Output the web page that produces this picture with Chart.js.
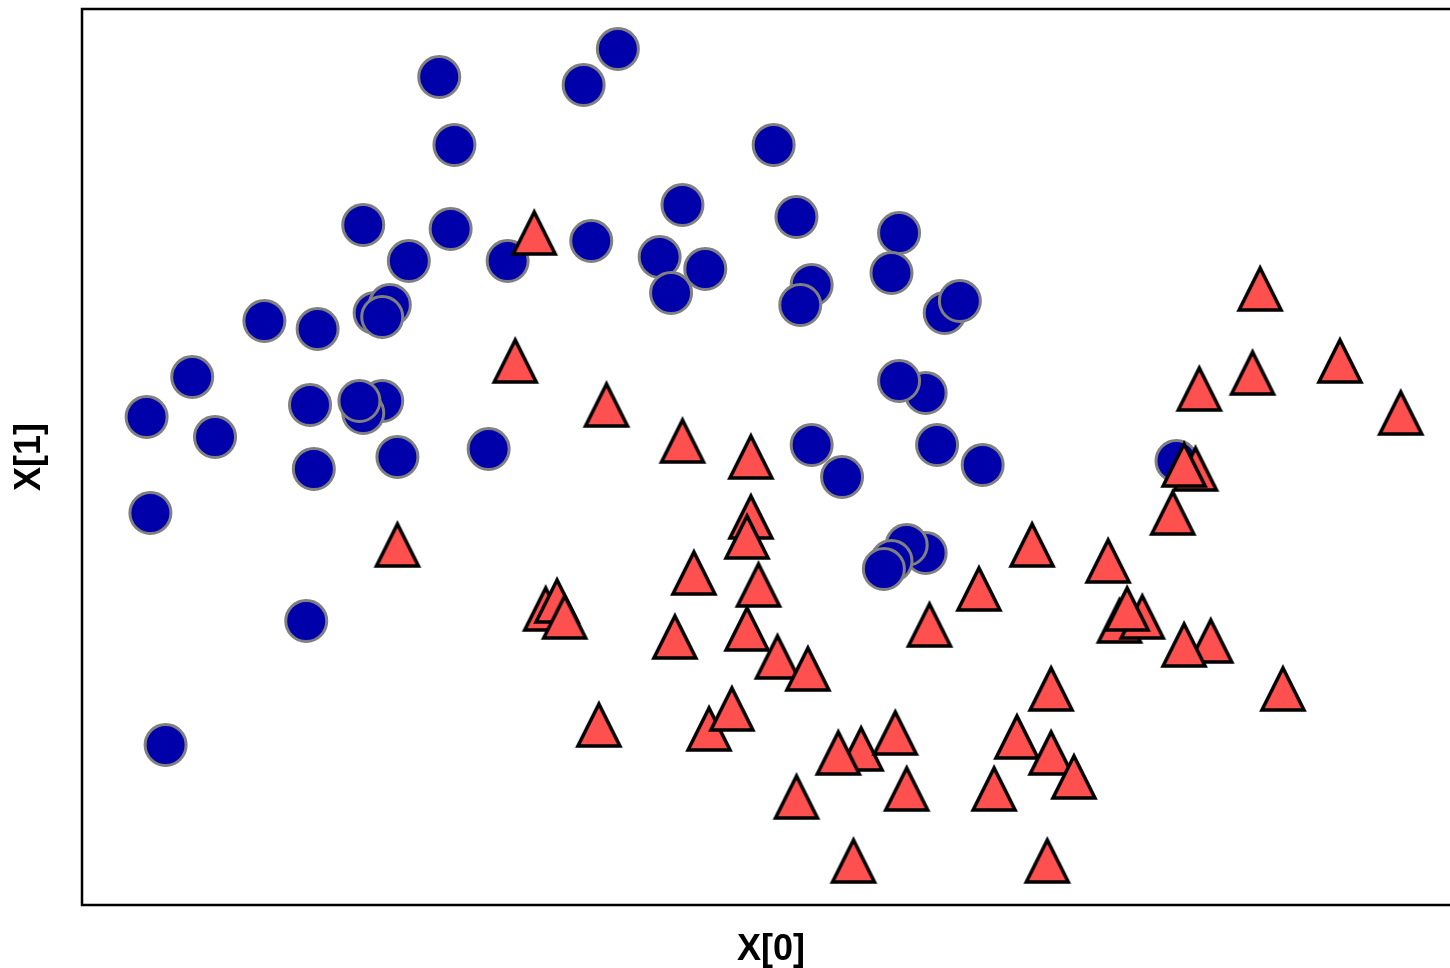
<!DOCTYPE html>
<html>
<head>
<meta charset="utf-8">
<script src="https://cdn.jsdelivr.net/npm/chart.js@4/dist/chart.umd.min.js"></script>
<style>
    html, body { margin: 0; padding: 0; background: #fff; overflow: hidden; }
    #wrap { width: 1470px; height: 968px; }
</style>
</head>
<body>
<div id="wrap"><canvas id="moons" width="1470" height="968"></canvas></div>
<script>
// 类别 0（圆点）
const class0X = [-0.26, 0.21, 0.12, -0.22, 0.62, -0.46, -0.23, -0.34, -0.08, 0.14,
    0.38, 0.68, 0.95, 0.32, 0.44, 0.35, 0.72, 0.69, 0.93, -0.43,
    -0.39, -0.41, -0.72, -0.58, -0.91, -1.03, -0.85, -0.60, -0.41, -0.46,
    -0.47, -0.37, -0.59, -0.13, -1.02, -0.61, -0.98, 1.07, 1.11, 1.02,
    0.95, 0.72, 0.80, 1.05, 1.17, 1.02, 0.97, 0.93, 0.91, 1.68];
const class0Y = [1.33, 1.40, 1.31, 1.16, 1.16, 0.96, 0.95, 0.87, 0.87, 0.92,
    1.01, 0.98, 0.94, 0.88, 0.85, 0.79, 0.81, 0.76, 0.84, 0.74,
    0.76, 0.73, 0.72, 0.70, 0.58, 0.48, 0.43, 0.51, 0.52, 0.49,
    0.52, 0.38, 0.35, 0.40, 0.24, -0.03, -0.34, 0.74, 0.77, 0.54,
    0.57, 0.41, 0.33, 0.41, 0.36, 0.14, 0.16, 0.12, 0.10, 0.37];

// 类别 1（三角形）
const class1X = [-0.01, -0.06, 0.18, 0.38, 0.56, -0.37, 0.56, 0.55, 0.41, 0.58,
    0.55, 0.63, 0.71, 0.36, 0.02, 0.05, 0.07, 0.16, 0.45, 0.51,
    0.68, 0.85, 0.79, 0.94, 0.97, 0.83, 1.03, 1.16, 1.30, 1.50,
    1.73, 1.70, 1.67, 1.53, 1.59, 1.55, 1.77, 1.70, 1.35, 1.26,
    1.35, 1.41, 1.20, 1.34, 1.90, 1.74, 1.88, 2.11, 2.27, 1.96];
const class1Y = [0.94, 0.62, 0.51, 0.42, 0.38, 0.16, 0.23, 0.18, 0.09, 0.06,
    -0.05, -0.12, -0.15, -0.07, 0.00, 0.02, -0.02, -0.29, -0.30, -0.25,
    -0.47, -0.35, -0.36, -0.31, -0.45, -0.63, -0.04, 0.05, 0.16, 0.12,
    0.35, 0.36, 0.24, -0.03, -0.02, 0.00, -0.08, -0.09, -0.20, -0.32,
    -0.36, -0.42, -0.45, -0.63, 0.80, 0.55, 0.59, 0.62, 0.49, -0.20];

// 坐标轴范围与标题
const xRange = [-1.2, 2.426];
const yRange = [-0.74, 1.5];
const axisTitles = ['X[0]', 'X[1]'];

function toPoints(xs, ys) {
    return xs.map((x, i) => ({ x: x, y: ys[i] }));
}

// 三角形标记（宽高相同，和 matplotlib 的 ^ 一样）
function makeTriangle() {
    const c = document.createElement('canvas');
    c.width = 54;
    c.height = 54;
    const ctx = c.getContext('2d');
    ctx.beginPath();
    ctx.moveTo(27, 6);
    ctx.lineTo(6, 48);
    ctx.lineTo(48, 48);
    ctx.closePath();
    ctx.fillStyle = '#ff5050';
    ctx.fill();
    ctx.lineWidth = 3.5;
    ctx.lineJoin = 'miter';
    ctx.strokeStyle = '#000';
    ctx.stroke();
    return c;
}

// 画四周边框
const framePlugin = {
    id: 'frame',
    beforeDatasetsDraw(chart) {
        const a = chart.chartArea;
        const ctx = chart.ctx;
        ctx.save();
        ctx.lineWidth = 2.5;
        ctx.strokeStyle = '#000';
        ctx.strokeRect(a.left, a.top, a.right - a.left, a.bottom - a.top);
        ctx.restore();
    }
};

const titleFont = { family: '"Liberation Sans", Arial, sans-serif', size: 36, weight: 'bold', lineHeight: 1 };

new Chart(document.getElementById('moons').getContext('2d'), {
    type: 'scatter',
    data: {
        datasets: [{
            label: 'class 0',
            data: toPoints(class0X, class0Y),
            pointStyle: 'circle',
            pointRadius: 20.5,
            pointHoverRadius: 20.5,
            backgroundColor: '#0000aa',
            borderColor: '#808080',
            borderWidth: 3,
            order: 2
        }, {
            label: 'class 1',
            data: toPoints(class1X, class1Y),
            pointStyle: makeTriangle(),
            order: 1
        }]
    },
    options: {
        responsive: false,
        animation: false,
        events: [],
        layout: {
            autoPadding: false,
            padding: { left: 4, top: 9, right: 10, bottom: 0 }
        },
        plugins: {
            legend: { display: false },
            tooltip: { enabled: false }
        },
        scales: {
            x: {
                type: 'linear',
                min: xRange[0],
                max: xRange[1],
                grid: { display: false, drawTicks: false },
                border: { display: false },
                ticks: { display: false },
                title: {
                    display: true,
                    text: axisTitles[0],
                    color: '#000',
                    font: titleFont,
                    padding: { top: 27, bottom: 0 }
                }
            },
            y: {
                type: 'linear',
                min: yRange[0],
                max: yRange[1],
                grid: { display: false, drawTicks: false },
                border: { display: false },
                ticks: { display: false },
                title: {
                    display: true,
                    text: axisTitles[1],
                    color: '#000',
                    font: titleFont,
                    padding: { top: 8, bottom: 34 }
                }
            }
        }
    },
    plugins: [framePlugin]
});
</script>
</body>
</html>
